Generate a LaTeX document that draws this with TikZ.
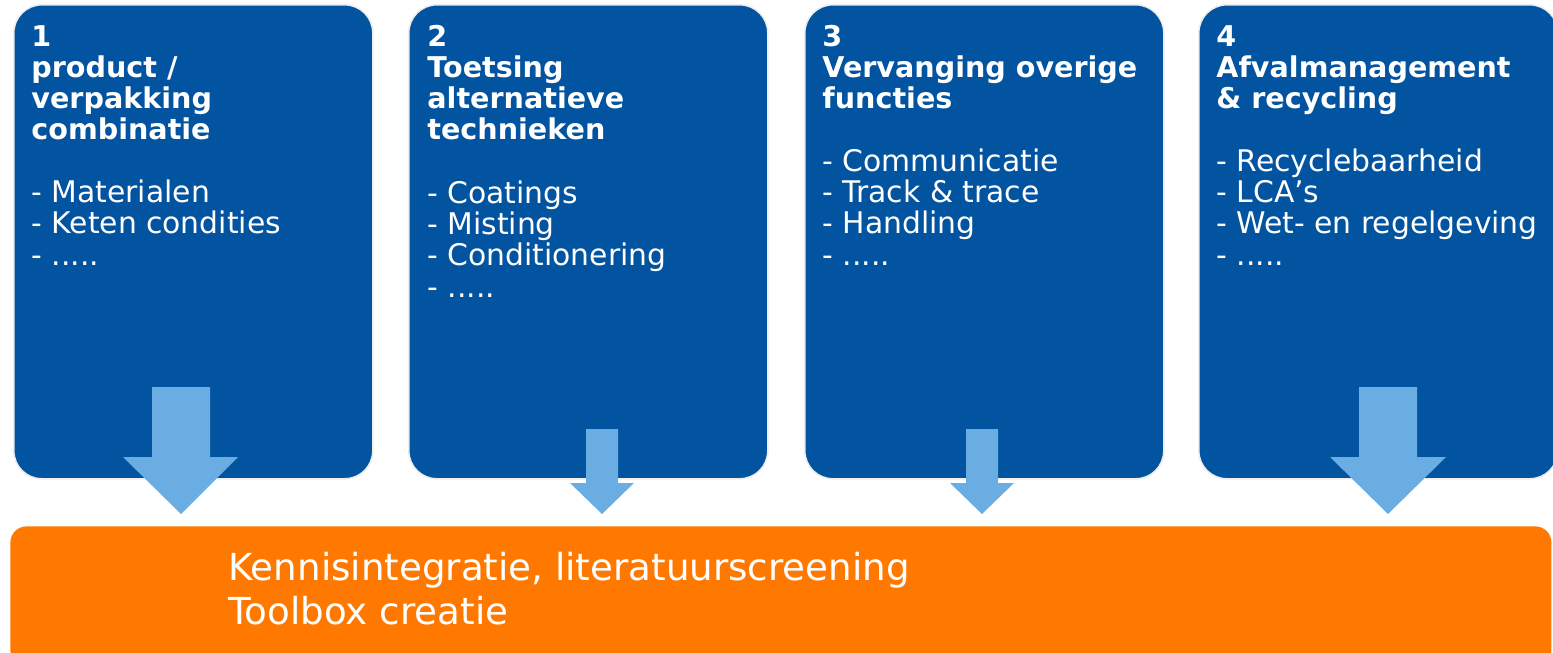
\documentclass[tikz,border=0pt]{standalone}
\usepackage{fontspec}
\setmainfont{DejaVu Sans}
\definecolor{boxblue}{RGB}{2,83,160}
\definecolor{arrowblue}{RGB}{106,173,226}
\definecolor{orangebar}{RGB}{255,121,0}
\begin{document}
\begin{tikzpicture}[x=0.5pt,y=-0.5pt,
  panel/.style={fill=boxblue, draw=black!7, line width=0.8pt, rounded corners=14pt,
    minimum width=179.5pt, minimum height=237pt, anchor=north west, inner sep=0pt},
  headtext/.style={anchor=base west, inner sep=0pt, align=left, text=white,
    font=\fontsize{14.3}{15.5}\selectfont\bfseries},
  listtext/.style={anchor=base west, inner sep=0pt, align=left, text=white,
    font=\fontsize{14.9}{15.6}\selectfont},
  blockarrow/.style={fill=arrowblue},
  barbox/.style={fill=orangebar, rounded corners=8pt, minimum width=770.5pt,
    minimum height=70pt, anchor=north west, inner sep=0pt},
  bartext/.style={anchor=base west, inner sep=0pt, align=left, text=white,
    font=\fontsize{18.6}{22}\selectfont}]
\useasboundingbox (0,0) rectangle (1553,653);
% panels
\node[panel] (b1) at (13,4) {};
\node[panel] (b2) at (408,4) {};
\node[panel] (b3) at (804,4) {};
\node[panel] (b4) at (1198,4) {};
% bar
\node[barbox] (bar) at (10,526) {};
% texts (anchor = baseline of last line)
\node[headtext] (h1) at (31,139) {1\\product /\\verpakking\\combinatie};
\node[listtext] (l1) at (31,265) {- Materialen\\- Keten condities\\- .....};
\node[headtext] (h2) at (427,139) {2\\Toetsing\\alternatieve\\technieken};
\node[listtext] (l2) at (427,297) {- Coatings\\- Misting\\- Conditionering\\- .....};
\node[headtext] (h3) at (822,108) {3\\Vervanging overige\\functies};
\node[listtext] (l3) at (822,265) {- Communicatie\\- Track \& trace\\- Handling\\- .....};
\node[headtext] (h4) at (1216,108) {4\\Afvalmanagement\\\& recycling};
\node[listtext] (l4) at (1216,265) {- Recyclebaarheid\\- LCA’s\\- Wet- en regelgeving\\- .....};
\node[bartext] (bt) at (228,624) {Kennisintegratie, literatuurscreening\\Toolbox creatie};
% block arrows
\fill[blockarrow] (152,387) -- (210,387) -- (210,457) -- (238,457) -- (181,514) -- (123,457) -- (152,457) -- cycle;
\fill[blockarrow] (586,429) -- (618,429) -- (618,483) -- (634,483) -- (602,514) -- (570,483) -- (586,483) -- cycle;
\fill[blockarrow] (966,429) -- (998,429) -- (998,483) -- (1014,483) -- (982,514) -- (950,483) -- (966,483) -- cycle;
\fill[blockarrow] (1359,387) -- (1417,387) -- (1417,457) -- (1446,457) -- (1388,514) -- (1330,457) -- (1359,457) -- cycle;
\end{tikzpicture}
\end{document}
